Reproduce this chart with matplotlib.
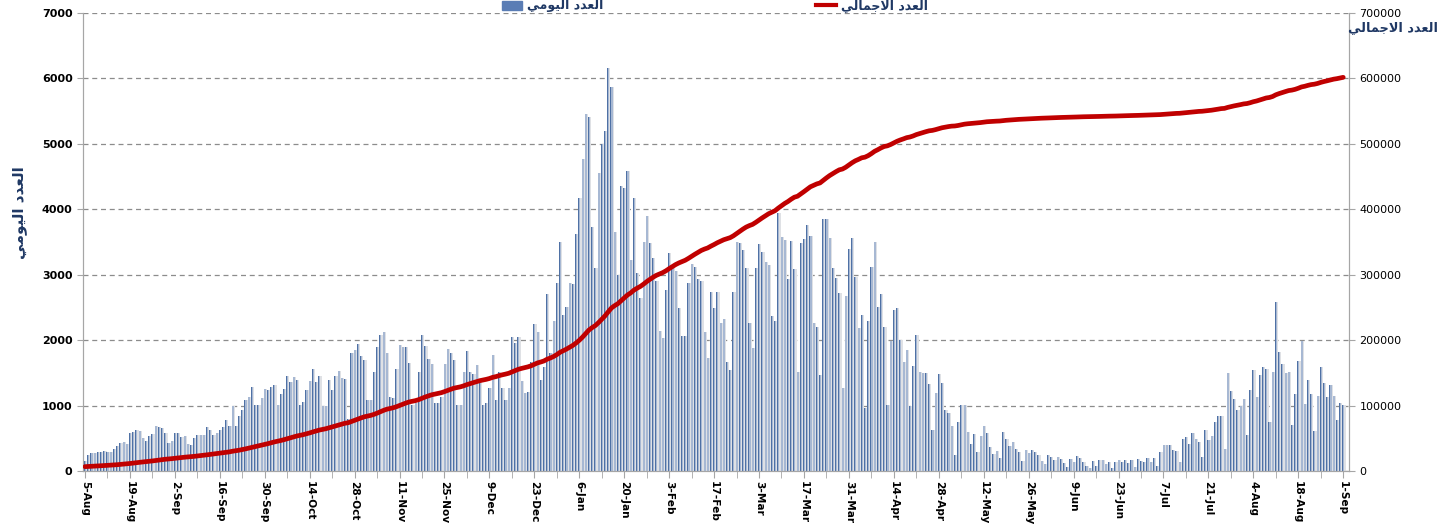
import numpy as np
import pandas as pd
import matplotlib
matplotlib.use("Agg")
import matplotlib.pyplot as plt
from matplotlib.patches import Patch
from matplotlib.lines import Line2D

plt.rcParams['font.family'] = ['DejaVu Sans']

# Arabic labels already shaped (presentation forms, visual order)
daily_label = '\ufef2\ufee3\ufeee\ufef4\ufedf\ufe8d \ufea9\ufeaa\ufecc\ufedf\ufe8d'   # العدد اليومي
total_label = '\ufef2\ufedf\ufe8e\ufee4\ufe9f\ufefb\ufe8d \ufea9\ufeaa\ufecc\ufedf\ufe8d'  # العدد الاجمالي

start_date = '2020-08-05'
start_total = 6500

# daily cases, two weeks per row, from 5-Aug
daily = [
    150, 245, 280, 270, 285, 290, 300, 290, 285, 330, 385, 430, 445, 410,
    585, 595, 625, 605, 500, 460, 530, 560, 690, 670, 655, 585, 430, 460,
    585, 585, 525, 530, 410, 395, 500, 550, 550, 550, 680, 625, 550, 575,
    625, 680, 780, 690, 1000, 690, 840, 935, 1085, 1135, 1280, 1010, 1010, 1110,
    1250, 1240, 1290, 1315, 1010, 1175, 1250, 1450, 1365, 1430, 1390, 1010, 1060, 1240,
    1375, 1555, 1365, 1450, 1000, 1000, 1390, 1240, 1445, 1530, 1425, 1400, 790, 1800,
    1850, 1935, 1760, 1690, 1085, 1085, 1510, 1890, 2080, 2130, 1800, 1135, 1110, 1555,
    1925, 1890, 1900, 1655, 1010, 1035, 1515, 2080, 1910, 1705, 1635, 1035, 1045, 1135,
    1635, 1860, 1800, 1695, 1010, 1010, 1515, 1840, 1515, 1490, 1620, 1390, 1010, 1035,
    1270, 1770, 1080, 1517, 1263, 1085, 1263, 2053, 1962, 2053, 1380, 1190, 1200, 1670,
    2240, 2130, 1390, 1595, 2700, 1796, 2290, 2877, 3504, 2385, 2510, 2877, 2852, 3620,
    4166, 4772, 5450, 5415, 3733, 3097, 4548, 4991, 5195, 6153, 5873, 3656, 2995, 4355,
    4320, 4590, 3225, 4176, 3020, 2648, 3504, 3900, 3490, 3250, 2900, 2140, 2028, 2774,
    3327, 3097, 3056, 2495, 2062, 2062, 2877, 3158, 3123, 2928, 2903, 2119, 1732, 2729,
    2485, 2729, 2256, 2317, 1670, 1543, 2729, 3504, 3479, 3377, 3097, 2256, 1874, 3097,
    3463, 3352, 3199, 3148, 2368, 2291, 3938, 3571, 3530, 2928, 3520, 3087, 1507, 3490,
    3540, 3760, 3590, 2256, 2205, 1467, 3850, 3850, 3566, 3097, 2944, 2714, 1263, 2674,
    3388, 3556, 2959, 2189, 2384, 968, 2297, 3123, 3504, 2500, 2700, 2205, 1010, 1987,
    2460, 2495, 2002, 1670, 1850, 993, 1605, 2078, 1507, 1492, 1492, 1324, 626, 1187,
    1476, 1340, 932, 880, 692, 244, 754, 1013, 1013, 600, 420, 560, 295, 540,
    693, 576, 362, 260, 306, 204, 600, 489, 387, 438, 331, 295, 153, 320,
    270, 320, 285, 244, 153, 107, 244, 219, 168, 209, 178, 127, 66, 178,
    132, 229, 204, 132, 81, 41, 158, 81, 168, 168, 107, 132, 41, 143,
    168, 132, 168, 117, 168, 66, 183, 158, 143, 204, 132, 204, 81, 285,
    397, 397, 397, 320, 306, 143, 489, 515, 413, 576, 484, 438, 209, 627,
    474, 540, 744, 840, 840, 336, 1497, 1217, 1105, 927, 998, 1105, 544, 1243,
    1538, 1126, 1462, 1589, 1558, 754, 1512, 2587, 1813, 1630, 1503, 1508, 703, 1177,
    1681, 1991, 1018, 1390, 1177, 616, 1146, 1589, 1340, 1126, 1319, 1146, 780, 1034,
    1008,
]

dates = pd.date_range(start_date, periods=len(daily), freq='D')
days = np.arange(len(daily))
total = start_total + np.cumsum(daily)
tick_labels = [f"{d.day}-{d.strftime('%b')}" for d in dates[::14]]

W, H = 1449, 524
fig = plt.figure(figsize=(W / 100, H / 100), dpi=100)
ax = fig.add_axes([83 / W, 1 - 471 / H, (1349 - 83) / W, (471 - 13) / H])

# soft shadow, light body and dark edge, like the spreadsheet bars
ax.bar(days + 0.5, daily, width=0.45, color='#dfe1e5', zorder=1)
ax.bar(days + 0.05, daily, width=0.62, color='#a7b8d3', zorder=2)
ax.bar(days - 0.18, daily, width=0.22, color='#4f71a5', zorder=2)
ax.set_xlim(-0.6, len(daily) + 0.8)
ax.set_ylim(0, 7000)
ax.set_yticks(range(0, 7001, 1000))
ax.yaxis.grid(True, linestyle=(0, (4, 3)), color='#8c8c8c', linewidth=0.9)
ax.set_axisbelow(True)

ax.set_xticks(days[::14])
ax.set_xticklabels(tick_labels, rotation=270, fontsize=7.6, fontweight='bold')
ax.set_xticks(days[::7], minor=True)
ax.tick_params(axis='x', which='both', length=5, color='#a6a6a6', pad=2)
ax.tick_params(axis='y', length=4, color='#a6a6a6', labelsize=8)
for t in ax.get_yticklabels():
    t.set_fontweight('bold')

ax2 = ax.twinx()
ax2.plot(days, total, color='#c00000', linewidth=3.4, solid_capstyle='round', zorder=3)
ax2.set_ylim(0, 700000)
ax2.set_yticks(range(0, 700001, 100000))
ax2.tick_params(axis='y', length=4, color='#a6a6a6', labelsize=8)

for a in (ax, ax2):
    a.spines['top'].set_visible(False)
    for s in ('left', 'right', 'bottom'):
        a.spines[s].set_color('#a6a6a6')

fig.text(20 / W, 1 - 213 / H, daily_label, rotation=90, color='#1f3864',
         fontsize=11, fontweight='bold', ha='center', va='center')
fig.text(1393 / W, 1 - 28 / H, total_label, color='#1f3864',
         fontsize=9.3, fontweight='bold', ha='center', va='center')

handles = [Patch(color='#5a7db5'), Line2D([0], [0], color='#c00000', linewidth=3)]
fig.legend(handles, [daily_label, total_label], loc='center',
           bbox_to_anchor=(715 / W, 1 - 6 / H), ncol=2, frameon=False,
           columnspacing=17, handlelength=1.6, handletextpad=0.4,
           prop={'size': 9, 'weight': 'bold'}, labelcolor='#1f3864')

fig.savefig('out.png', dpi=100)
